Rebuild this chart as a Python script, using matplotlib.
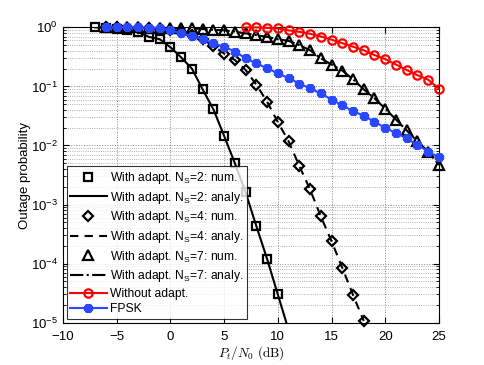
import matplotlib
matplotlib.use('Agg')
import matplotlib.pyplot as plt
from matplotlib.ticker import LogLocator, NullFormatter, MultipleLocator

plt.rcParams['font.family'] = ['Liberation Sans', 'DejaVu Sans']
plt.rcParams['mathtext.fontset'] = 'custom'
plt.rcParams['mathtext.rm'] = 'Liberation Sans'
plt.rcParams['mathtext.it'] = 'Liberation Sans:italic'

# x axis values (dB)
snr_ns2 = [-7, -6, -5, -4, -3, -2, -1, 0, 1, 2, 3, 4, 5, 6, 7, 8, 9, 10]
p_ns2 = [1.0, 0.98, 0.95, 0.91, 0.83, 0.69, 0.63, 0.46, 0.31, 0.20, 0.089, 0.041,
         0.0145, 0.005, 0.0016, 4.3e-4, 1.2e-4, 3.0e-5]
snr_ns2_an = [-7, -6, -5, -4, -3, -2, -1, 0, 1, 2, 3, 4, 5, 6, 7, 8, 9, 10, 11]
p_ns2_an = [1.0, 0.98, 0.95, 0.91, 0.83, 0.69, 0.63, 0.46, 0.31, 0.20, 0.089, 0.041,
            0.0145, 0.005, 0.0016, 4.3e-4, 1.2e-4, 3.0e-5, 7.5e-6]

snr_ns4 = [-6, -5, -4, -3, -2, -1, 0, 1, 2, 3, 4, 5, 6, 7, 8, 9, 10, 11, 12,
           13, 14, 15, 16, 17, 18]
p_ns4 = [1.0, 1.0, 0.99, 0.98, 0.96, 0.93, 0.89, 0.83, 0.74, 0.63, 0.48, 0.36,
         0.28, 0.19, 0.107, 0.055, 0.025, 0.0118, 0.0045, 0.0018, 6.3e-4,
         2.4e-4, 8.5e-5, 2.95e-5, 1.07e-5]

snr_ns7 = [-6, -5, -4, -3, -2, -1, 0, 1, 2, 3, 4, 5, 6, 7, 8, 9, 10, 11, 12,
           13, 14, 15, 16, 17, 18, 19, 20, 21, 22, 23, 24, 25]
p_ns7 = [1.0, 1.0, 1.0, 1.0, 0.99, 0.99, 0.98, 0.97, 0.96, 0.94, 0.91, 0.89,
         0.85, 0.79, 0.74, 0.69, 0.63, 0.59, 0.50, 0.41, 0.30, 0.235, 0.186,
         0.132, 0.089, 0.063, 0.042, 0.0275, 0.018, 0.0117, 0.0079, 0.0047]

snr_noad = [7, 8, 9, 10, 11, 12, 13, 14, 15, 16, 17, 18, 19, 20, 21, 22, 23, 24, 25]
p_noad = [1.0, 1.0, 0.98, 0.96, 0.89, 0.84, 0.78, 0.70, 0.62, 0.54, 0.47, 0.41,
          0.34, 0.29, 0.235, 0.19, 0.155, 0.13, 0.092]

snr_fpsk = [-6, -5, -4, -3, -2, -1, 0, 1, 2, 3, 4, 5, 6, 7, 8, 9, 10, 11, 12,
            13, 14, 15, 16, 17, 18, 19, 20, 21, 22, 23, 24, 25]
p_fpsk = [1.0, 1.0, 1.0, 1.0, 0.99, 0.97, 0.89, 0.79, 0.72, 0.63, 0.54, 0.47,
          0.39, 0.30, 0.245, 0.204, 0.166, 0.138, 0.112, 0.093, 0.076, 0.060,
          0.048, 0.038, 0.032, 0.025, 0.020, 0.0162, 0.0132, 0.0102, 0.0079, 0.0063]

fig = plt.figure(figsize=(4.85, 3.65), dpi=100)
ax = fig.add_axes([0.130, 0.116, 0.775, 0.809])

mk = dict(linestyle='none', color='black', markerfacecolor='none', markersize=5.5,
          markeredgewidth=1.6, clip_on=False, zorder=3)
ax.plot(snr_ns2, p_ns2, marker='s', label='With adapt. N$_\\mathrm{S}$=2: num.', **mk)
ax.plot(snr_ns2_an, p_ns2_an, '-', color='black', lw=1.5,
        label='With adapt. N$_\\mathrm{S}$=2: analy.')
ax.plot(snr_ns4, p_ns4, marker='D', label='With adapt. N$_\\mathrm{S}$=4: num.',
        **dict(mk, markersize=5))
ax.plot(snr_ns4, p_ns4, '--', color='black', lw=1.5, dashes=(4, 3),
        label='With adapt. N$_\\mathrm{S}$=4: analy.')
ax.plot(snr_ns7, p_ns7, marker='^', label='With adapt. N$_\\mathrm{S}$=7: num.',
        **dict(mk, markersize=6.5))
ax.plot(snr_ns7, p_ns7, '-.', color='black', lw=1.5,
        label='With adapt. N$_\\mathrm{S}$=7: analy.')
ax.plot(snr_noad, p_noad, '-', color='red', lw=1.5, marker='o', markersize=6,
        markerfacecolor='none', markeredgewidth=1.6, clip_on=False, zorder=4,
        label='Without adapt.')
ax.plot(snr_fpsk, p_fpsk, '-', color='#2a48ff', lw=1.5, marker=(6, 2, 0),
        markersize=6.5, markeredgewidth=2.8, clip_on=False, zorder=4, label='FPSK')

ax.set_yscale('log')
ax.set_xlim(-10, 25)
ax.set_ylim(1e-5, 1)
ax.xaxis.set_major_locator(MultipleLocator(5))
ax.yaxis.set_major_locator(LogLocator(base=10, numticks=10))
ax.yaxis.set_minor_locator(LogLocator(base=10, subs=range(2, 10), numticks=20))
ax.yaxis.set_minor_formatter(NullFormatter())
ax.set_xticks([-10, -5, 0, 5, 10, 15, 20, 25])
ax.set_xticklabels(['\u221210', '\u22125', '0', '5', '10', '15', '20', '25'])

ax.grid(True, which='major', axis='both', linestyle=':', color='#888888', lw=0.7)
ax.grid(True, which='minor', axis='y', linestyle=':', color='#999999', lw=0.6)
ax.tick_params(which='both', direction='in', top=True, right=True, labelsize=9.5)
ax.tick_params(which='major', length=4)
ax.tick_params(which='minor', length=2)
ax.tick_params(axis='x', pad=6)
for s in ax.spines.values():
    s.set_linewidth(0.8)

ax.set_xlabel(r'$P_t/N_0\ \mathrm{(dB)}$', fontsize=9.5, math_fontfamily='cm', labelpad=1)
ax.set_ylabel('Outage probability', fontsize=9.5, labelpad=0)

leg = ax.legend(loc='lower left', fontsize=8.7, frameon=True, fancybox=False,
                edgecolor='black', handlelength=3.0, handletextpad=0.3,
                borderaxespad=0.3, labelspacing=0.3, borderpad=0.3)
leg.get_frame().set_linewidth(0.8)
leg.set_zorder(5)

fig.savefig('out.png', dpi=100)
